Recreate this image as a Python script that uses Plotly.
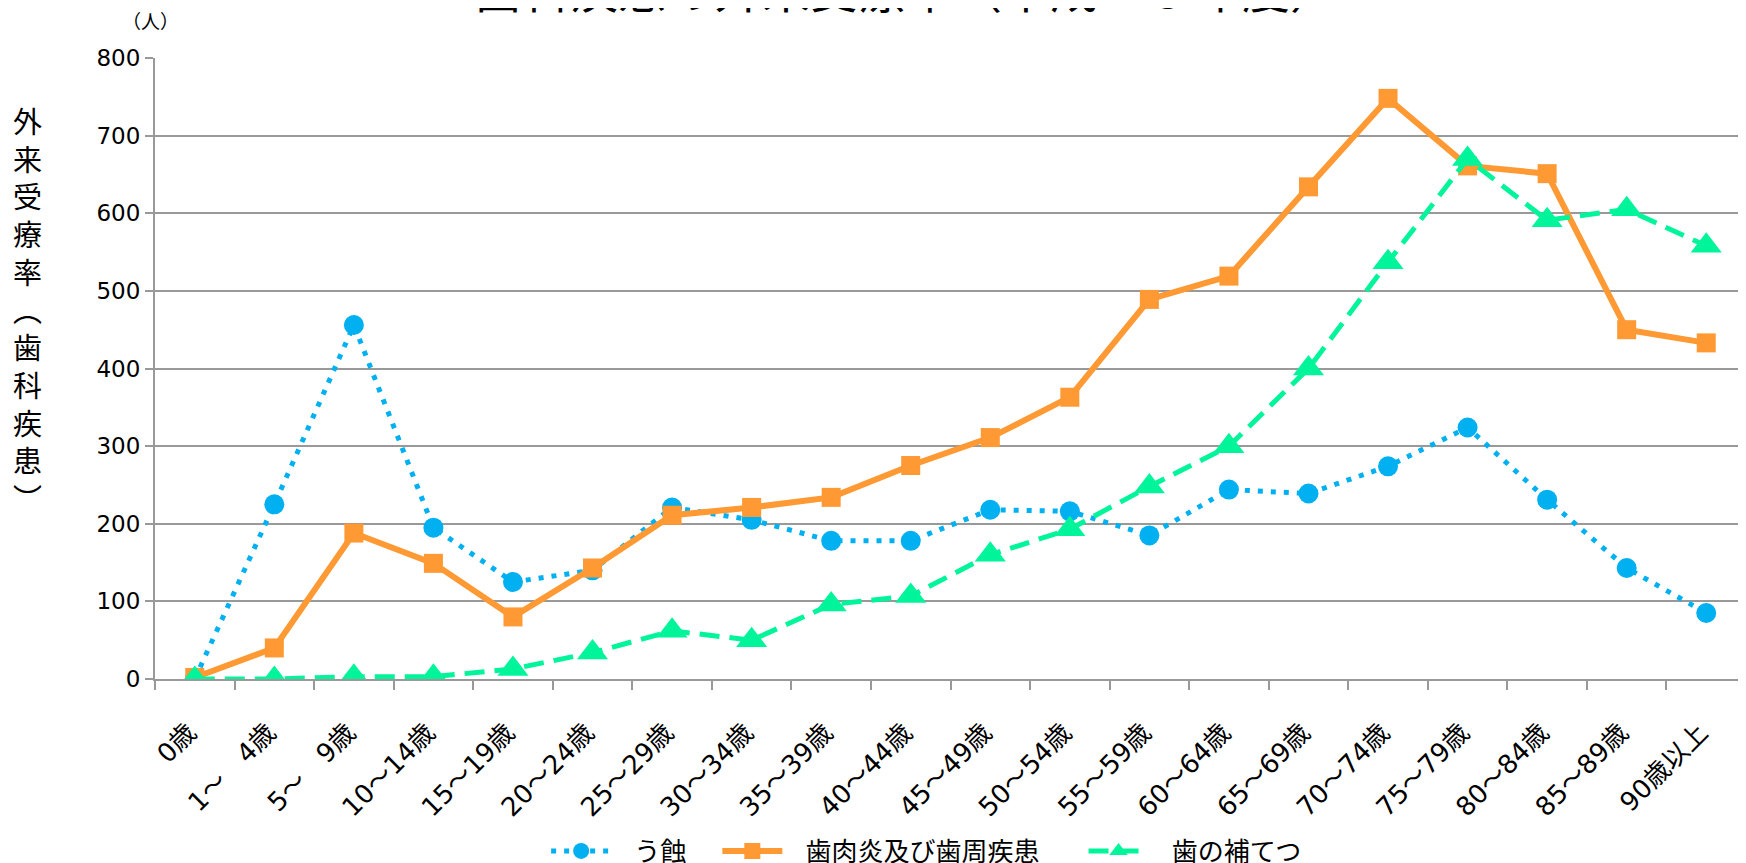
import plotly.graph_objects as go

ages = ["0歳", "1～　4歳", "5～　9歳", "10～14歳", "15～19歳", "20～24歳", "25～29歳",
        "30～34歳", "35～39歳", "40～44歳", "45～49歳", "50～54歳", "55～59歳", "60～64歳",
        "65～69歳", "70～74歳", "75～79歳", "80～84歳", "85～89歳", "90歳以上"]

caries = [0, 225, 456, 195, 125, 140, 221, 205, 178, 178, 218, 216, 185, 244, 239, 274, 324, 231, 143, 85]
periodontal = [2, 40, 188, 149, 80, 143, 211, 221, 234, 275, 311, 363, 489, 519, 634, 748, 661, 651, 450, 433]
prosthesis = [0, 0, 3, 3, 13, 34, 62, 50, 96, 107, 160, 193, 248, 300, 400, 537, 670, 591, 605, 558]

FONT = "DejaVu Sans, Noto Sans CJK JP"
JP = "Noto Sans CJK JP"

# en/ideographic spaces widen the legend gaps (svg keeps them)
fig = go.Figure()
fig.add_trace(go.Scatter(
    x=ages, y=caries, name="\u2002\u2009う蝕\u3000", mode="lines+markers",
    line=dict(color="#00B0F0", width=5, dash="5px,8px"),
    marker=dict(symbol="circle", size=20, color="#00B0F0")
))
fig.add_trace(go.Scatter(
    x=ages, y=periodontal, name="\u2002\u2009歯肉炎及び歯周疾患\u3000\u2002", mode="lines+markers",
    line=dict(color="#FF9933", width=6),
    marker=dict(symbol="square", size=19, color="#FF9933")
))
fig.add_trace(go.Scatter(
    x=ages, y=prosthesis, name="\u2002\u2009歯の補てつ", mode="lines+markers",
    line=dict(color="#00F59B", width=5, dash="20px,10px"),
    marker=dict(symbol="triangle-up", size=27, color="#00F59B")
))

# the page body adds an 8px offset, so margins are shifted to compensate
fig.update_layout(
    width=1746, height=863,
    margin=dict(l=147, r=8, t=50, b=192, autoexpand=False),
    plot_bgcolor="white", paper_bgcolor="white",
    font=dict(family=FONT, size=21, color="black"),
    showlegend=True,
    legend=dict(orientation="h", x=0.485, xanchor="center", y=-0.277, yanchor="middle",
                font=dict(family=JP, size=26), itemwidth=60),
    xaxis=dict(
        type="category", range=[-0.5, 19.5], tickangle=-45,
        showline=True, linecolor="#999999", linewidth=2,
        ticks="outside", tickson="boundaries", ticklen=9, tickcolor="#999999", tickwidth=2,
        showgrid=False, tickfont=dict(size=26), ticklabelstandoff=26, ticklabelshift=-6
    ),
    yaxis=dict(
        range=[0, 800], dtick=100,
        showline=True, linecolor="#999999", linewidth=2,
        ticks="outside", ticklen=8, tickcolor="#999999", tickwidth=2,
        showgrid=True, gridcolor="#999999", gridwidth=2,
        zeroline=False, tickfont=dict(size=23)
    ),
    annotations=[
        dict(text="歯科疾患の外来受療率（平成２９年度）", xref="paper", yref="paper",
             x=0.472, y=1.114, xanchor="center", yanchor="middle", showarrow=False,
             font=dict(family=JP, size=48)),
        dict(text="（人）", xref="paper", yref="paper", x=-0.003, y=1.061,
             xanchor="center", yanchor="middle", showarrow=False,
             font=dict(family=JP, size=19)),
        dict(text="<br>".join(list("外来受療率︵歯科疾患︶")), xref="paper", yref="paper",
             x=-0.08, y=0.596, xanchor="center", yanchor="middle", showarrow=False,
             font=dict(family=JP, size=29)),
    ]
)

fig.write_html("out.html")
